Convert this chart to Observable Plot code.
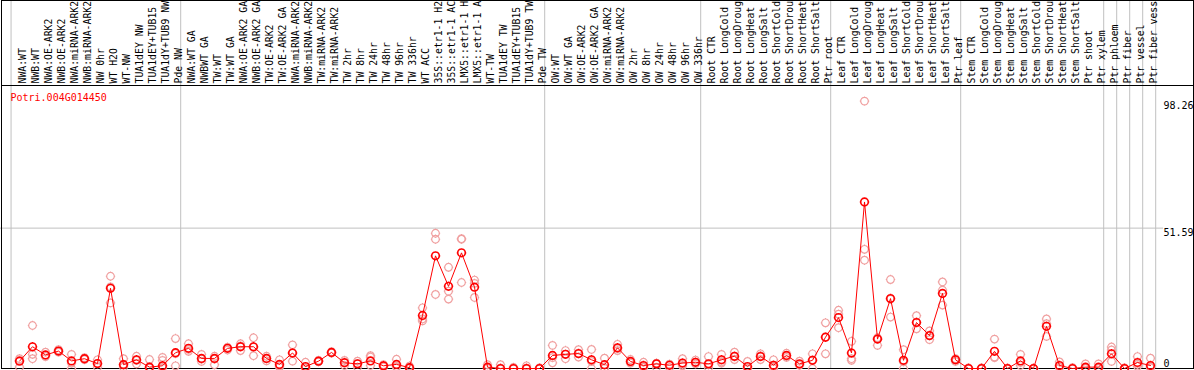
<!DOCTYPE html>
<html>
<head>
<meta charset="utf-8">
<script src="https://cdn.jsdelivr.net/npm/d3@7"></script>
<script src="https://cdn.jsdelivr.net/npm/@observablehq/plot@0.6"></script>
<style>
  body { margin: 0; background: white; }
  #chart svg { display: block; overflow: hidden; }
</style>
</head>
<body>
<div id="chart"></div>
<script>
const geneName = "Potri.004G014450";

const labels = [
  "NWA:WT", "NWB:WT", "NWA:OE-ARK2", "NWB:OE-ARK2", "NWA:miRNA-ARK2", "NWB:miRNA-ARK2",
  "NW 0hr", "WT H2O", "WT-NW", "TUA1dEY NW", "TUA1dEY+TUB15", "TUA1dY+TUB9 NW", "Pde NW",
  "NWA:WT GA", "NWBWT GA", "TW:WT", "TW:WT GA", "NWA:OE-ARK2 GA", "NWB:OE-ARK2 GA",
  "TW:OE-ARK2", "TW:OE-ARK2 GA", "NWA:miRNA-ARK2", "NWB:miRNA-ARK2", "TW:miRNA-ARK2",
  "TW:miRNA-ARK2", "TW 2hr", "TW 8hr", "TW 24hr", "TW 48hr", "TW 96hr", "TW 336hr",
  "WT ACC", "35S::etr1-1 H2O", "35S::etr1-1 ACC", "LMX5::etr1-1 H2O", "LMX5::etr1-1 ACC",
  "WT-TW", "TUA1dEY TW", "TUA1dEY+TUB15", "TUA1dY+TUB9 TW", "Pde TW",
  "OW:WT", "OW:WT GA", "OW:OE-ARK2", "OW:OE-ARK2 GA", "OW:miRNA-ARK2", "OW:miRNA-ARK2",
  "OW 2hr", "OW 8hr", "OW 24hr", "OW 48hr", "OW 96hr", "OW 336hr",
  "Root CTR", "Root LongCold", "Root LongDrought", "Root LongHeat", "Root LongSalt",
  "Root ShortCold", "Root ShortDrought", "Root ShortHeat", "Root ShortSalt", "Ptr root",
  "Leaf CTR", "Leaf LongCold", "Leaf LongDrought", "Leaf LongHeat", "Leaf LongSalt",
  "Leaf ShortCold", "Leaf ShortDrought", "Leaf ShortHeat", "Leaf ShortSalt", "Ptr leaf",
  "Stem CTR", "Stem LongCold", "Stem LongDrought", "Stem LongHeat", "Stem LongSalt",
  "Stem ShortCold", "Stem ShortDrought", "Stem ShortHeat", "Stem ShortSalt", "Ptr shoot",
  "Ptr xylem", "Ptr phloem", "Ptr fiber", "Ptr vessel", "Ptr fiber vessel"
];
const labelMaxChars = 14; // labels are shown truncated, as in the reference

const means = [
  2.7, 8.0, 5.0, 6.4, 2.8, 3.6, 1.8, 29.5, 1.4, 3.2, 0.5, 1.0, 5.8,
  7.4, 3.7, 3.7, 7.4, 8.0, 8.0, 3.7, 1.5, 5.7, 0.7, 2.7, 5.9, 2.1, 1.7, 2.8, 1.0, 1.5, 0.3,
  19.5, 41.4, 30.2, 42.5, 29.9, 0.5, 0, 0, 0, 0,
  4.8, 5.2, 5.5, 3.2, 1.4, 7.6, 2.6, 1.1, 1.7, 1.2, 2.0, 2.3,
  1.7, 3.2, 4.5, 0.7, 4.4, 1.2, 4.8, 1.7, 3.0, 11.5,
  18.7, 5.7, 61.2, 10.8, 25.7, 3.0, 16.9, 12.1, 27.6, 3.2,
  0, 0, 6.3, 0, 2.8, 0, 15.5, 1.1, 0, 0.5,
  0.5, 5.4, 0, 2.2, 1.1
];

const replicates = [
  [3.6, 0.5, 3.0], [15.8, 5.2, 3.6], [6.0, 4.8, 4.4], [6.9, 6.0, 6.3], [5.2, 2.0, 0],
  [4.0, 3.4, 3.3], [3.2, 1.8, 0.5], [33.9, 30.0, 24.1], [3.6, 1.6, 0.5], [4.5, 1.7, 3.0],
  [3.3, 0.6, 0.2], [4.1, 3.0, 0.3], [11.0, 1.0, 5.5],
  [9.1, 6.3, 7.0], [5.2, 2.6, 3.5], [4.5, 3.5, 1.4], [7.8, 6.8, 7.5], [9.1, 6.6, 8.3],
  [11.3, 4.7, 7.8], [4.5, 2.8, 3.7], [3.2, 0.5, 1.0], [8.7, 2.7, 5.7], [2.3, 0.2, 0],
  [3.0, 2.5, 2.6], [6.2, 5.7, 5.8], [3.0, 1.1, 2.3], [2.7, 0.5, 1.8], [4.7, 4.2, 1.1],
  [1.4, 0.6, 1.0], [3.4, 0.5, 0.7], [0.9, 0, 0.2],
  [22.3, 18.2, 17.5], [49.7, 47.5, 27.2], [37.2, 28.4, 25.5], [47.7, 47.5, 31.6],
  [32.5, 31.3, 26.1], [1.4, 0.2, 0], [1.4, 0, 0], [0.4, 0, 0], [1.0, 0, 0], [0.2, 0, 0],
  [8.5, 2.1, 4.0], [6.6, 3.6, 5.3], [6.9, 4.2, 5.4], [7.0, 0, 2.6], [3.8, 0.3, 0],
  [8.9, 6.6, 7.3], [3.3, 2.0, 2.5], [2.3, 0.4, 0.6], [2.0, 0.4, 1.6], [1.6, 0.4, 1.4],
  [3.6, 1.5, 1.0], [3.1, 1.7, 2.2],
  [4.4, 1.4, 0.3], [5.2, 2.4, 2.0], [6.0, 3.3, 4.3], [2.6, 0, 0], [5.4, 3.3, 4.6],
  [3.2, 0, 0.8], [5.6, 4.1, 4.7], [2.7, 1.2, 1.3], [5.4, 0, 3.2], [16.8, 5.4, 11.6],
  [21.4, 15.0, 20.0], [10.0, 3.6, 3.0], [98.26, 43.8, 39.8], [8.5, 10.8, 11.3],
  [32.7, 18.9, 25.5], [6.9, 0, 2.5], [19.4, 14.6, 17.0], [13.8, 10.6, 12.0],
  [31.8, 23.3, 28.8], [3.6, 2.6, 3.3],
  [0.2, 0, 0], [0.2, 0, 0], [10.8, 4.2, 4.0], [0, 0, 0], [5.2, 1.1, 2.2], [0, 0, 0],
  [18.2, 11.8, 16.5], [2.4, 0.5, 0.4], [0.3, 0, 0], [1.7, 0.2, 0],
  [1.7, 0, 0.3], [7.9, 2.6, 6.8], [0.2, 0, 0], [4.4, 0.8, 1.5], [3.8, 0.3, 0.5]
];

// group separators, in column-index units
const separators = [-0.65, 12.4, 40.4, 52.4, 62.4, 72.4, 83.4, 84.4, 85.4, 86.4, 87.4];
const yTickTop = [98.26, 51.59];
const yTickZero = [0];
const gridValues = [51.59];

const meanData = means.map((v, i) => ({i, v}));
const repData = replicates.flatMap((r, i) => r.map(v => ({i, v})));
const labelData = labels.map((name, i) => ({i, name}));

// circle with four tiny notches
const notched = {
  draw(ctx, size) {
    const r = Math.sqrt(size / Math.PI);
    ctx.moveTo(r, 0);
    ctx.arc(0, 0, r, 0, 2 * Math.PI);
    for (const [a, b] of [[1, 0], [-1, 0], [0, 1], [0, -1]]) {
      ctx.moveTo(a * r, b * r);
      ctx.lineTo(a * (r + 0.9), b * (r + 0.9));
    }
  }
};

const chart = Plot.plot({
  width: 1194,
  height: 370,
  marginTop: 85,
  marginBottom: 2,
  marginLeft: 0,
  marginRight: 39,
  x: {type: "linear", domain: [0, labels.length - 1], range: [19, 1150], axis: null},
  y: {domain: [0, 104], range: [368, 85], axis: null},
  style: {fontFamily: "'DejaVu Sans Mono', monospace", fontSize: "10px", background: "white"},
  marks: [
    Plot.ruleX(separators, {x: d => d, stroke: "#c0c0c0", strokeWidth: 1, insetTop: -85}),
    Plot.ruleY(gridValues, {y: d => d, stroke: "#c0c0c0", insetRight: -8}),
    Plot.frame({stroke: "black", insetLeft: 1, insetRight: -38}),
    Plot.frame({stroke: "black", insetLeft: 1, insetRight: -38, insetTop: -85}),
    Plot.text(labelData, {
      x: "i", text: d => d.name.slice(0, labelMaxChars), frameAnchor: "top", rotate: -90, textAnchor: "start",
      dy: -2, fill: "black", fontSize: 9.8
    }),
    Plot.dot(repData, {x: "i", y: "v", symbol: notched, r: 3.8, stroke: "#f0a0a0", strokeWidth: 1.2}),
    Plot.line(meanData, {x: "i", y: "v", stroke: "red", strokeWidth: 1}),
    Plot.dot(meanData, {x: "i", y: "v", symbol: notched, r: 3.8, stroke: "red", strokeWidth: 1.6, fill: "none"}),
    Plot.text([geneName], {frameAnchor: "top-left", dx: 10, dy: 8, lineAnchor: "top", fill: "red", fontSize: 10}),
    Plot.text(yTickTop, {y: d => d, text: d => String(d), frameAnchor: "right", textAnchor: "start", lineAnchor: "top", dx: 8, dy: 1, fill: "black", fontSize: 10}),
    Plot.text(yTickZero, {y: d => d, text: d => String(d), frameAnchor: "right", textAnchor: "start", lineAnchor: "bottom", dx: 8, dy: -2, fill: "black", fontSize: 10})
  ]
});
document.getElementById("chart").appendChild(chart);
</script>
</body>
</html>
